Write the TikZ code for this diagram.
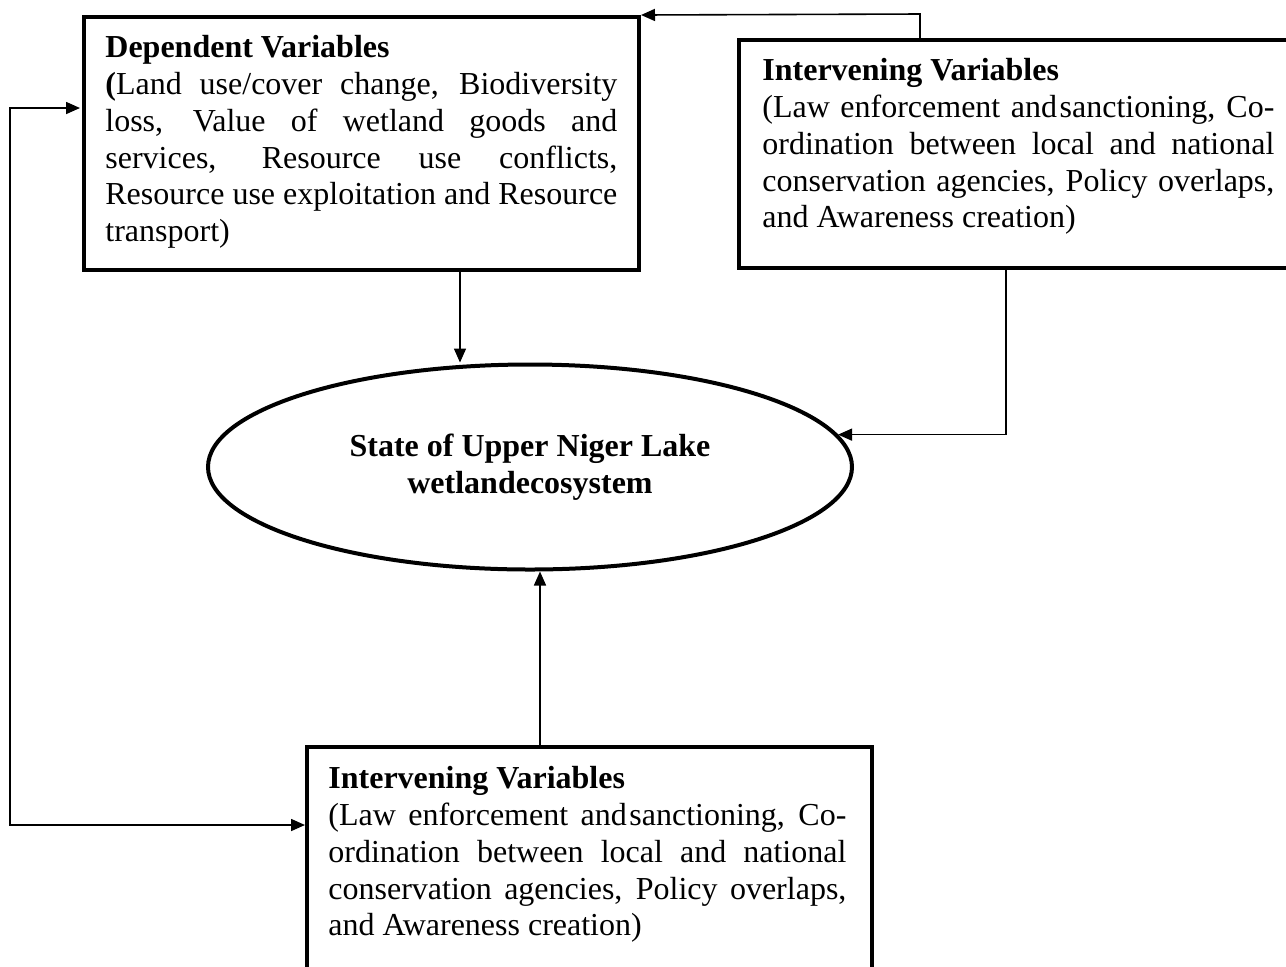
\documentclass[tikz,border=0pt]{standalone}
\usepackage{fontspec}
\setmainfont{Liberation Serif}
\usetikzlibrary{calc, arrows.meta, shapes.geometric, positioning}
\tolerance=10000
\hyphenpenalty=10000

\tikzset{
    box/.style={draw, line width=2pt, anchor=north west, inner sep=0pt},
    boxtext/.style={anchor=north west, inner sep=0pt, text width=#1,
        align=justify, font=\fontsize{16}{18.4}\selectfont},
    arr/.style={line width=0.8pt, -{Triangle[length=7pt, width=6pt]}},
    twoarr/.style={line width=0.8pt,
        {Triangle[length=7pt, width=6pt]}-{Triangle[length=7pt, width=6pt]}},
}

\begin{document}
\begin{tikzpicture}[x=0.5pt, y=-0.5pt]
    \useasboundingbox (0,0) rectangle (1286,966);
    \clip (0,0) rectangle (1286,966);

    % boxes
    \node[box, minimum width=277.5pt, minimum height=126.5pt] (dep) at (82,15) {};
    \node[boxtext=256pt] (deptxt) at (105,35)
        {\textbf{Dependent Variables}\\
        \textbf{(}Land use/cover change, Biodiversity\linebreak
        loss, Value of wetland goods and\linebreak
        services, Resource use conflicts,\linebreak
        Resource use exploitation and Resource\linebreak
        transport)};

    \node[box, minimum width=300pt, minimum height=114pt] (intA) at (737,38) {};
    \node[boxtext=256pt] (intAtxt) at (762,58)
        {\textbf{Intervening Variables}\\
        (Law enforcement and\hspace{0.08em}sanctioning, Co-\linebreak
        ordination between local and national\linebreak
        conservation agencies, Policy overlaps,\linebreak
        and Awareness creation)};

    \node[box, minimum width=282.5pt, minimum height=130pt] (intB) at (305,745) {};
    \node[boxtext=259pt] (intBtxt) at (328,766)
        {\textbf{Intervening Variables}\\
        (Law enforcement and\hspace{0.08em}sanctioning, Co-\linebreak
        ordination between local and national\linebreak
        conservation agencies, Policy overlaps,\linebreak
        and Awareness creation)};

    \node[draw, ellipse, line width=2pt, minimum width=322pt,
        minimum height=102.5pt, align=center,
        font=\fontsize{16}{18.4}\selectfont\bfseries] (lake) at (530,467)
        {State of Upper Niger Lake\\wetlandecosystem};

    % links into the lake
    \coordinate (depout) at ([xshift=49.25pt]dep.south);
    \draw[arr] (depout) -- (depout |- lake.north);

    \coordinate (intAout) at ([xshift=134.5pt]intA.south west);
    \draw[arr] (intAout) |- (lake.6);

    \coordinate (intBin) at ([xshift=117.5pt]intB.north west);
    \draw[arr] (intBin) -- (intBin |- lake.south);

    % feedback links
    \coordinate (intAtop) at ([xshift=91.5pt]intA.north west);
    \coordinate (bendA) at ([yshift=12pt]intAtop);
    \draw[arr] (intAtop) -- (bendA) -- (dep.north east);

    \coordinate (rail) at (10,0);
    \coordinate (loopA) at ([yshift=-46.5pt]dep.west |- dep.north);
    \coordinate (loopB) at ([yshift=-40pt]intB.north west);
    \draw[twoarr] ([xshift=-1pt]loopA -| dep.west) -- (loopA -| rail)
        -- (loopB -| rail) -- (loopB);
\end{tikzpicture}
\end{document}
